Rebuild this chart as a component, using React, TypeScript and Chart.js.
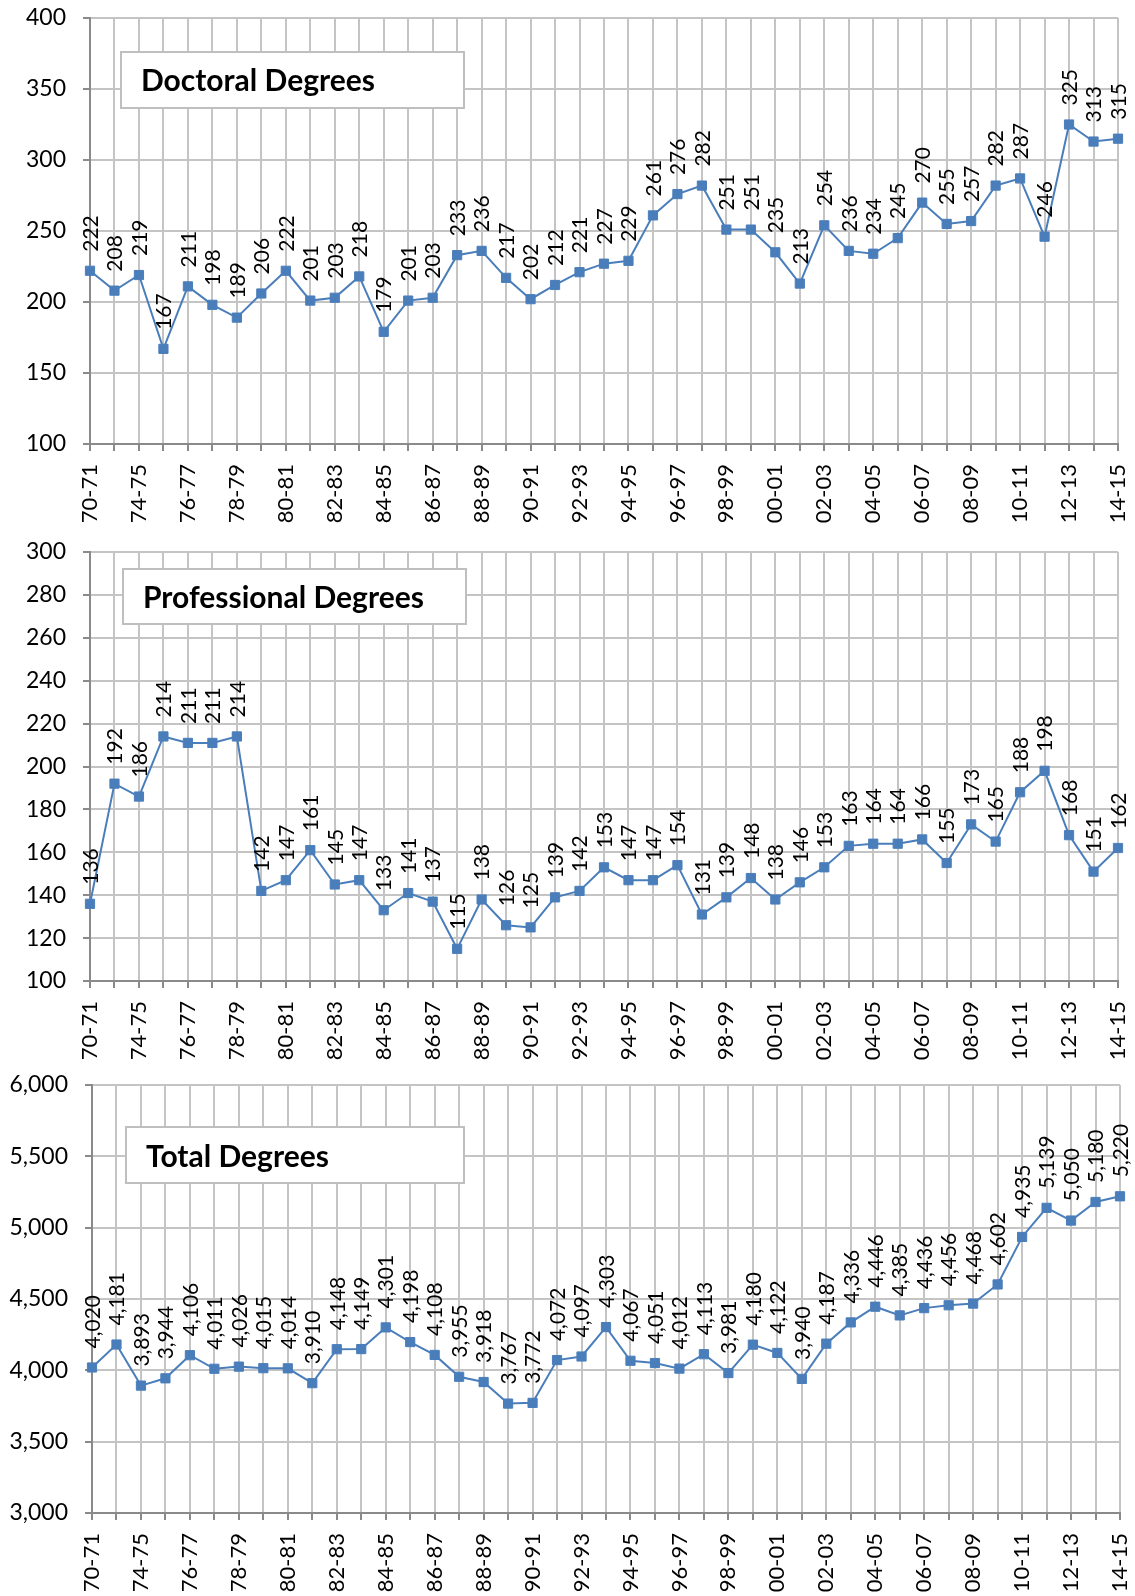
import React, { useEffect, useRef } from "react";
import { Chart, registerables } from "chart.js";

Chart.register(...registerables);

const categories = [
  "70-71", "72-73", "74-75", "75-76", "76-77", "77-78", "78-79", "79-80", "80-81", "81-82",
  "82-83", "83-84", "84-85", "85-86", "86-87", "87-88", "88-89", "89-90", "90-91", "91-92",
  "92-93", "93-94", "94-95", "95-96", "96-97", "97-98", "98-99", "99-00", "00-01", "01-02",
  "02-03", "03-04", "04-05", "05-06", "06-07", "07-08", "08-09", "09-10", "10-11", "11-12",
  "12-13", "13-14", "14-15",
];

const doctoralValues = [
  222, 208, 219, 167, 211, 198, 189, 206, 222, 201,
  203, 218, 179, 201, 203, 233, 236, 217, 202, 212,
  221, 227, 229, 261, 276, 282, 251, 251, 235, 213,
  254, 236, 234, 245, 270, 255, 257, 282, 287, 246,
  325, 313, 315,
];

const professionalValues = [
  136, 192, 186, 214, 211, 211, 214, 142, 147, 161,
  145, 147, 133, 141, 137, 115, 138, 126, 125, 139,
  142, 153, 147, 147, 154, 131, 139, 148, 138, 146,
  153, 163, 164, 164, 166, 155, 173, 165, 188, 198,
  168, 151, 162,
];

const totalValues = [
  4020, 4181, 3893, 3944, 4106, 4011, 4026, 4015, 4014, 3910,
  4148, 4149, 4301, 4198, 4108, 3955, 3918, 3767, 3772, 4072,
  4097, 4303, 4067, 4051, 4012, 4113, 3981, 4180, 4122, 3940,
  4187, 4336, 4446, 4385, 4436, 4456, 4468, 4602, 4935, 5139,
  5050, 5180, 5220,
];

const doctoralAxis = [100, 400, 50];
const professionalAxis = [100, 300, 20];
const totalAxis = [3000, 6000, 500];

const titles = ["Doctoral Degrees", "Professional Degrees", "Total Degrees"];

const FONT = "Lato, 'Open Sans', 'DejaVu Sans', sans-serif";
const LINE = "#4a7ebb";
const GRID = "#c4c4c4";
const AXIS = "#8a8a8a";

type Area = { left: number; right: number; top: number; bottom: number };
type Box = { x: number; y: number; w: number; h: number; tx: number; ty: number };

function zeroPadding(s: any) {
  s.paddingTop = 0;
  s.paddingBottom = 0;
  s.paddingLeft = 0;
  s.paddingRight = 0;
}

function LineChart(props: {
  values: number[];
  axis: number[];
  title: string;
  top: number;
  width: number;
  height: number;
  area: Area;
  box: Box;
  commas: boolean;
}) {
  const { values, axis, title, top, width, height, area, box, commas } = props;
  const ref = useRef<HTMLCanvasElement>(null);

  useEffect(() => {
    const fmt = (v: number) => (commas ? v.toLocaleString("en-US") : String(v));

    const labelPlugin = {
      id: "pointLabels",
      afterDatasetsDraw(chart: any) {
        const ctx = chart.ctx;
        const meta = chart.getDatasetMeta(0);
        ctx.save();
        ctx.font = `21px ${FONT}`;
        ctx.fillStyle = "#000";
        ctx.textAlign = "left";
        ctx.textBaseline = "middle";
        meta.data.forEach((pt: any, i: number) => {
          ctx.save();
          ctx.translate(pt.x + 1, pt.y - 19);
          ctx.rotate(-Math.PI / 2);
          ctx.fillText(fmt(values[i]), 0, 0);
          ctx.restore();
        });
        ctx.restore();
      },
    };

    const boxPlugin = {
      id: "titleBox",
      afterDraw(chart: any) {
        const ctx = chart.ctx;
        ctx.save();
        ctx.fillStyle = "#ffffff";
        ctx.fillRect(box.x, box.y, box.w, box.h);
        ctx.strokeStyle = "#bfbfbf";
        ctx.lineWidth = 2;
        ctx.strokeRect(box.x, box.y, box.w, box.h);
        ctx.fillStyle = "#000";
        ctx.font = `bold 30px ${FONT}`;
        ctx.textAlign = "left";
        ctx.textBaseline = "alphabetic";
        ctx.fillText(title, box.tx, box.ty);
        ctx.restore();
      },
    };

    const chart = new Chart(ref.current as HTMLCanvasElement, {
      type: "line",
      data: {
        labels: categories,
        datasets: [
          {
            data: values,
            borderColor: LINE,
            backgroundColor: LINE,
            borderWidth: 2,
            pointStyle: "rect",
            pointRadius: 6.5,
            pointBorderWidth: 1,
            pointBackgroundColor: LINE,
            pointBorderColor: LINE,
            tension: 0,
          },
        ],
      },
      options: {
        responsive: false,
        animation: false,
        events: [],
        layout: { padding: { left: 0, top: area.top, right: width - area.right, bottom: 0 } },
        plugins: {
          legend: { display: false },
          tooltip: { enabled: false },
          title: { display: false },
        },
        scales: {
          x: {
            type: "category",
            offset: false,
            grid: { color: GRID, lineWidth: 2, tickColor: AXIS, tickLength: 7 },
            border: { color: AXIS, width: 2 },
            ticks: {
              autoSkip: false,
              maxRotation: 90,
              minRotation: 90,
              padding: 13,
              color: "#000",
              font: { family: FONT, size: 22 },
              callback: (_v: any, i: number) => (i % 2 === 0 ? categories[i] : ""),
            },
            afterFit: (s: any) => {
              s.height = height - area.bottom;
              zeroPadding(s);
            },
          },
          y: {
            min: axis[0],
            max: axis[1],
            grid: { color: GRID, lineWidth: 2, tickColor: AXIS, tickLength: 7 },
            border: { color: AXIS, width: 2 },
            ticks: {
              stepSize: axis[2],
              padding: 17,
              color: "#000",
              font: { family: FONT, size: 23 },
              callback: (v: any) => fmt(Number(v)),
            },
            afterFit: (s: any) => {
              s.width = area.left;
              zeroPadding(s);
            },
          },
        },
      } as any,
      plugins: [labelPlugin, boxPlugin],
    });
    return () => chart.destroy();
  }, []);

  return (
    <canvas
      ref={ref}
      width={width}
      height={height}
      style={{ position: "absolute", left: 0, top, display: "block" }}
    />
  );
}

export default function App() {
  return (
    <div
      style={{
        position: "absolute",
        left: 0,
        top: 0,
        width: 1135,
        height: 1596,
        background: "#fff",
        overflow: "hidden",
      }}
    >
      <LineChart
        values={doctoralValues}
        axis={doctoralAxis}
        title={titles[0]}
        top={0}
        width={1135}
        height={530}
        area={{ left: 90, right: 1118, top: 18, bottom: 444 }}
        box={{ x: 121, y: 52, w: 343, h: 56, tx: 141, ty: 91 }}
        commas={false}
      />
      <LineChart
        values={professionalValues}
        axis={professionalAxis}
        title={titles[1]}
        top={530}
        width={1135}
        height={535}
        area={{ left: 90, right: 1118, top: 22, bottom: 451 }}
        box={{ x: 123, y: 39, w: 343, h: 55, tx: 143, ty: 78 }}
        commas={false}
      />
      <LineChart
        values={totalValues}
        axis={totalAxis}
        title={titles[2]}
        top={1065}
        width={1135}
        height={531}
        area={{ left: 92, right: 1120, top: 20, bottom: 448 }}
        box={{ x: 126, y: 62, w: 338, h: 56, tx: 146, ty: 102 }}
        commas={true}
      />
    </div>
  );
}
